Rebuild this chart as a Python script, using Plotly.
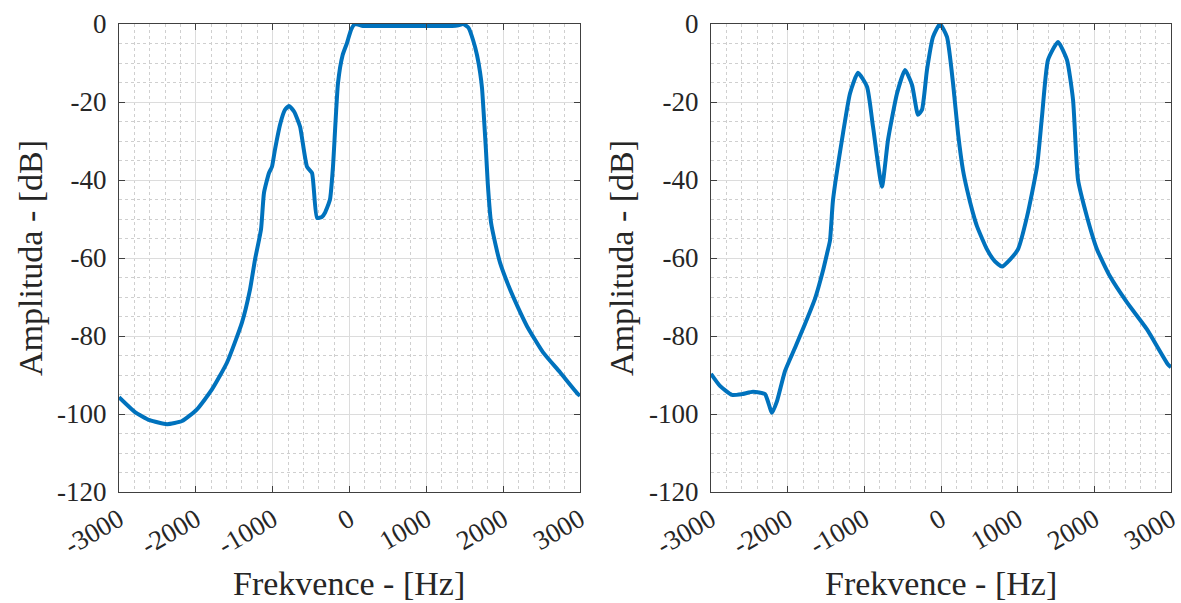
import plotly.graph_objects as go

# Left panel: frequency (Hz) and amplitude (dB)
freq_left = [-3000, -2792, -2600, -2375, -2180, -1985, -1790, -1594, -1399, -1295, -1230,
             -1152, -1113, -1048, -1009, -970, -900, -840, -787, -720, -644, -553, -488,
             -423, -360, -319, -254, -215, -150, -90, -33, 20, 72, 176, 400, 800, 1200,
             1334, 1420, 1479, 1550, 1608, 1660, 1700, 1725, 1750, 1775, 1800, 1842, 1900,
             1959, 2090, 2200, 2310, 2519, 2740, 2974, 3000]
amp_left = [-95.7, -99.5, -101.6, -102.6, -101.8, -98.8, -93.7, -86.8, -76.5, -68.1, -60.4,
            -52.7, -43.3, -38.2, -36.6, -32.2, -25.5, -22.0, -21.0, -22.5, -26.3, -36.6, -38.2,
            -49.7, -49.5, -48.4, -45.0, -36.6, -15.2, -8.0, -4.9, -1.5, 0.0, -0.5, -0.5, -0.5, -0.5,
            -0.5, -0.3, 0.0, -1.0, -4.1, -8.0, -12.5, -16.5, -24.0, -32.0, -41.0, -50.9, -56.5,
            -61.2, -68.1, -73.0, -77.5, -84.2, -89.3, -94.9, -95.3]

# Right panel
freq_right = [-3000, -2883, -2726, -2596, -2452, -2296, -2205, -2139, -2035, -1904, -1774,
              -1643, -1539, -1487, -1448, -1409, -1278, -1187, -1083, -965, -887, -770,
              -691, -574, -470, -378, -300, -248, -183, -104, -13, 78, 157, 222, 287, 339,
              417, 470, 600, 700, 796, 900, 1004, 1122, 1252, 1317, 1396, 1526, 1643, 1722,
              1787, 1904, 2035, 2204, 2426, 2687, 2961, 3000]
amp_right = [-89.7, -92.8, -95.1, -94.9, -94.3, -94.9, -99.7, -96.7, -89.0, -83.0, -76.9,
             -70.4, -63.2, -58.9, -55.5, -45.2, -28.0, -17.8, -12.5, -16.1, -26.3, -41.7,
             -29.7, -17.8, -11.8, -15.6, -23.3, -22.0, -11.8, -3.3, 0.0, -3.3, -15.2, -28.0,
             -37.5, -42.4, -48.5, -51.9, -57.8, -60.8, -62.2, -60.4, -57.8, -49.4, -36.6,
             -23.8, -9.2, -4.6, -9.2, -19.4, -39.9, -49.4, -57.8, -64.7, -71.4, -78.3, -87.3, -88.0]

x_ticks = [-3000, -2000, -1000, 0, 1000, 2000, 3000]
y_ticks = [-120, -100, -80, -60, -40, -20, 0]
x_title = "Frekvence - [Hz]"
y_title = "Amplituda - [dB]"

LINE = "#0072BD"
FONT = "Liberation Serif"
TXT = "#262626"
GRID = "#dcdcdc"
MINOR = "#cfcfcf"

W, H = 1181, 603
ML, MR, MT, MB = 119, 10, 24, 111
PW = W - ML - MR
PH = H - MT - MB

fig = go.Figure()
fig.add_trace(go.Scatter(x=freq_left, y=amp_left, mode="lines", xaxis="x", yaxis="y",
                         line=dict(color=LINE, width=4, shape="spline", smoothing=0.5),
                         showlegend=False))
fig.add_trace(go.Scatter(x=freq_right, y=amp_right, mode="lines", xaxis="x2", yaxis="y2",
                         line=dict(color=LINE, width=4, shape="spline", smoothing=0.5),
                         showlegend=False))

def xaxis(domain, anchor):
    return dict(domain=domain, anchor=anchor, range=[-3000, 3000], tickvals=x_ticks,
                ticktext=[str(v) for v in x_ticks], tickangle=-30, automargin=False,
                ticks="inside", ticklen=6, tickcolor="#404040", tickwidth=1,
                showline=True, linecolor="#404040", linewidth=1.3, mirror="allticks",
                showgrid=True, gridcolor=GRID, gridwidth=1, zeroline=False,
                minor=dict(dtick=200, tick0=0, showgrid=True, gridcolor=MINOR, griddash="dot",
                           gridwidth=1, ticks=""),
                tickfont=dict(family=FONT, size=27, color=TXT), fixedrange=True)

def yaxis(domain, anchor):
    return dict(domain=domain, anchor=anchor, range=[-120, 0], tickvals=y_ticks,
                ticktext=[str(v) for v in y_ticks], automargin=False, ticklabelstandoff=6,
                ticks="inside", ticklen=6, tickcolor="#404040", tickwidth=1,
                showline=True, linecolor="#404040", linewidth=1.3, mirror="allticks",
                showgrid=True, gridcolor=GRID, gridwidth=1, zeroline=False,
                minor=dict(dtick=5, tick0=0, showgrid=True, gridcolor=MINOR, griddash="dot",
                           gridwidth=1, ticks=""),
                tickfont=dict(family=FONT, size=27, color=TXT), fixedrange=True)

xl = [0, (580 - ML) / PW]
xr = [(711 - ML) / PW, 1.0]
fig.update_layout(
    width=W, height=H, margin=dict(l=ML, r=MR, t=MT, b=MB),
    paper_bgcolor="white", plot_bgcolor="white",
    xaxis=xaxis(xl, "y"), yaxis=yaxis([0, 1], "x"),
    xaxis2=xaxis(xr, "y2"), yaxis2=yaxis([0, 1], "x2"),
)

def px_x(p):
    return (p - ML) / PW

def px_y(p):
    return (H - MB - p) / PH

ann = []
for cx in (349, 941):
    ann.append(dict(text=x_title, x=px_x(cx), y=px_y(583), xref="paper", yref="paper",
                    showarrow=False, font=dict(family=FONT, size=34, color=TXT),
                    xanchor="center", yanchor="middle"))
for cx in (30, 621):
    ann.append(dict(text=y_title, x=px_x(cx), y=px_y(258), xref="paper", yref="paper",
                    showarrow=False, textangle=-90, font=dict(family=FONT, size=34, color=TXT),
                    xanchor="center", yanchor="middle"))
fig.update_layout(annotations=ann)

fig.write_html("out.html")
